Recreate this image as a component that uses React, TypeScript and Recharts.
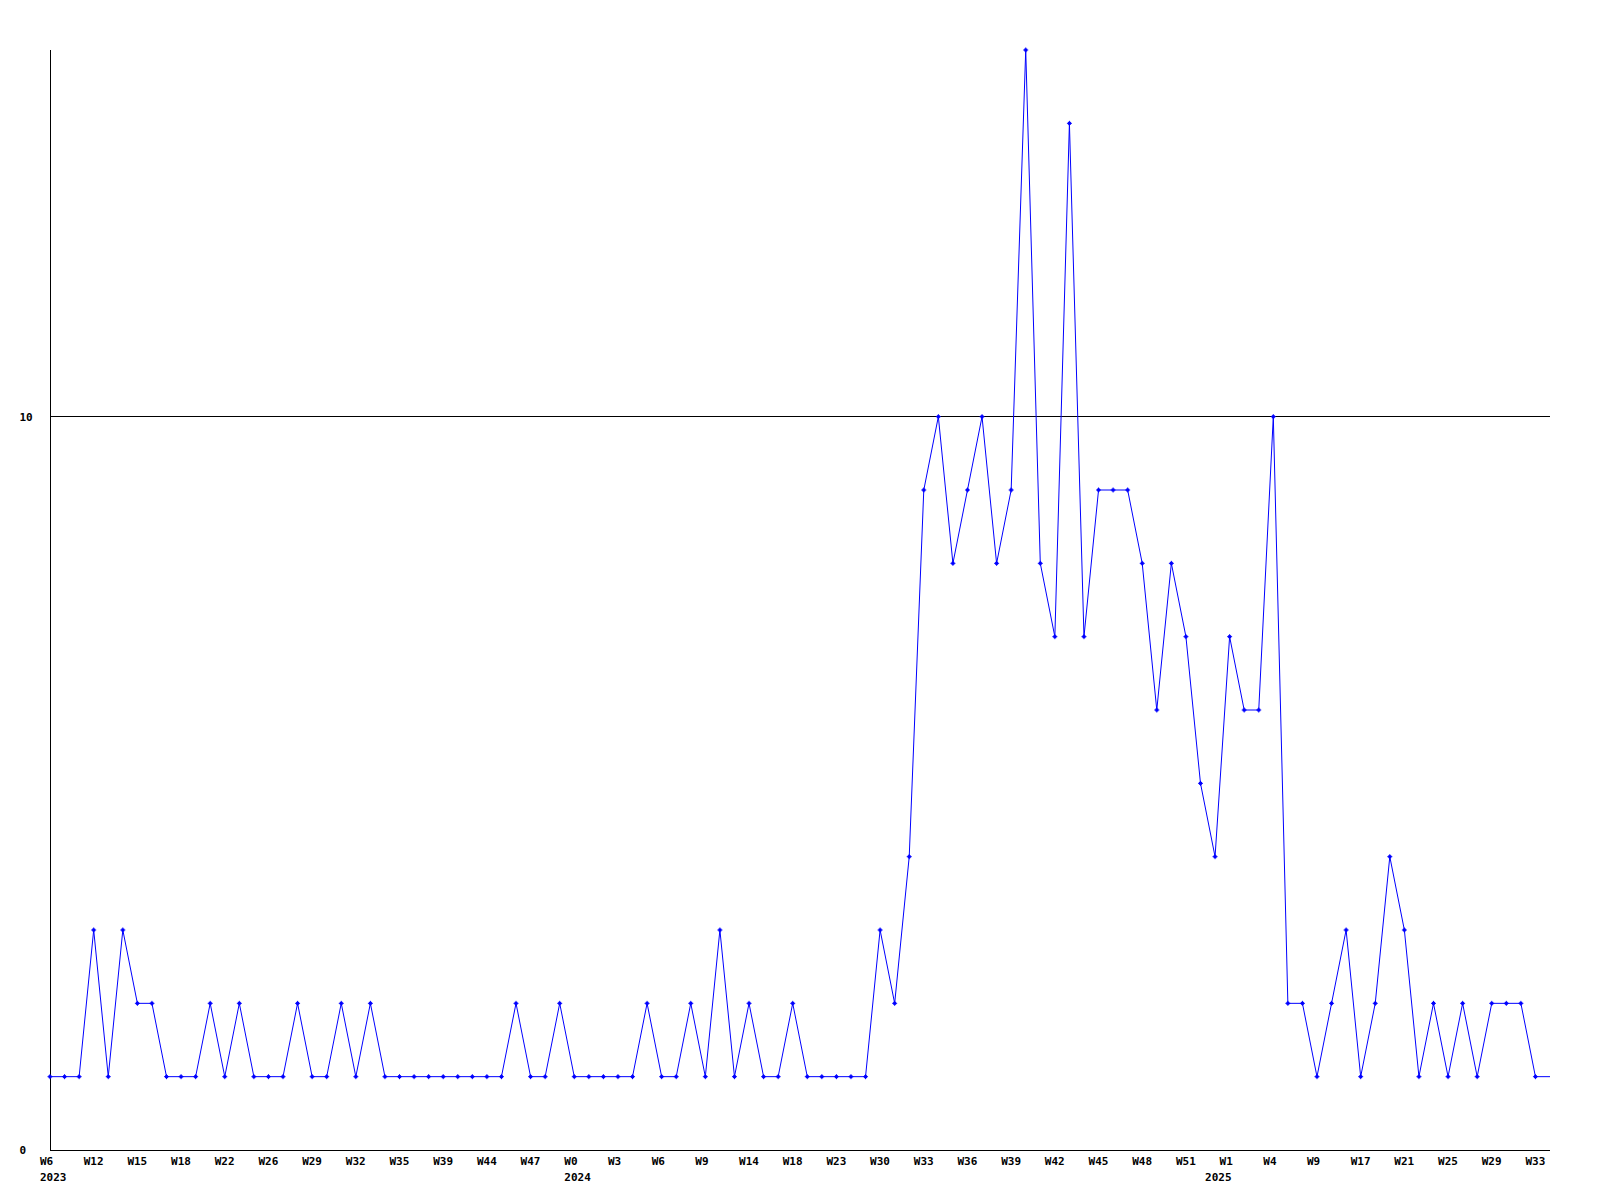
import { LineChart, Line, XAxis, YAxis, ReferenceLine } from "recharts";

// weekly counts, oldest first
const counts = [
  1, 1, 1, 3, 1, 3, 2, 2, 1, 1, 1, 2, 1, 2, 1, 1, 1, 2, 1, 1, 2, 1, 2, 1, 1, 1, 1, 1, 1, 1, 1, 1, 2, 1, 1, 2,
  1, 1, 1, 1, 1, 2, 1, 1, 2, 1, 3, 1, 2, 1, 1, 2, 1, 1, 1, 1, 1, 3, 2,
  4, 9, 10, 8, 9, 10, 8, 9, 15, 8, 7, 14, 7, 9, 9, 9, 8, 6, 8, 7, 5, 4, 7, 6, 6, 10,
  2, 2, 1, 2, 3, 1, 2, 4, 3, 1, 2, 1, 2, 1, 2, 2, 2, 1, 1,
];

// one label on every third point
const weekLabels = [
  "W6", "W12", "W15", "W18", "W22", "W26", "W29", "W32", "W35", "W39", "W44", "W47",
  "W0", "W3", "W6", "W9", "W14", "W18", "W23", "W30", "W33", "W36", "W39", "W42", "W45", "W48", "W51",
  "W1", "W4", "W9", "W17", "W21", "W25", "W29", "W33",
];
const labelStep = 3;

// point index where each year starts
const yearStarts = [
  { at: 0, label: "2023" },
  { at: 36, label: "2024" },
  { at: 80, label: "2025" },
];

const yTicks = [0, 10];
const gridValue = 10;

const data = counts.map((n, i) => ({ i, n }));

const weekAt = new Map(weekLabels.map((w, k) => [k * labelStep, w]));
const yearAt = new Map(yearStarts.map((y) => [y.at, y.label]));
const xTicks = Array.from(new Set([...weekAt.keys(), ...yearAt.keys()])).sort((a, b) => a - b);

const font = {
  fontFamily: '"DejaVu Sans Mono", monospace',
  fontWeight: "bold" as const,
  fontSize: 11,
  fill: "#000",
};

function WeekTick(props: any) {
  const { x, y, payload } = props;
  const week = weekAt.get(payload.value);
  const year = yearAt.get(payload.value);
  return (
    <g>
      {week && (
        <text x={x - 10} y={y + 15} textAnchor="start" {...font}>
          {week}
        </text>
      )}
      {year && (
        <text x={x - 10} y={y + 31} textAnchor="start" {...font}>
          {year}
        </text>
      )}
    </g>
  );
}

function ValueTick(props: any) {
  const { y, payload } = props;
  return (
    <text x={19.5} y={y + 4} textAnchor="start" {...font}>
      {payload.value}
    </text>
  );
}

function Marker(props: any) {
  const { cx, cy, index } = props;
  if (index === counts.length - 1) return <g key={`m${index}`} />;
  return (
    <g key={`m${index}`} fill="#0000ff">
      <rect x={cx - 1.5} y={cy - 1.5} width={3} height={3} />
      <rect x={cx - 2.5} y={cy - 0.5} width={5} height={1} />
      <rect x={cx - 0.5} y={cy - 2.5} width={1} height={5} />
    </g>
  );
}

export default function App() {
  return (
    <div style={{ position: "absolute", left: 0, top: 0, background: "#fff" }}>
      <LineChart
        width={1600}
        height={1200}
        data={data}
        margin={{ top: 50, right: 50, bottom: 0, left: 0 }}
      >
        <XAxis
          dataKey="i"
          type="number"
          domain={[0, counts.length - 1]}
          ticks={xTicks}
          interval={0}
          height={50}
          tickSize={0}
          tickMargin={0}
          tickLine={false}
          axisLine={{ stroke: "#000", shapeRendering: "crispEdges" }}
          tick={<WeekTick />}
        />
        <YAxis
          domain={[0, 15]}
          ticks={yTicks}
          width={50}
          tickSize={0}
          tickLine={false}
          axisLine={{ stroke: "#000", shapeRendering: "crispEdges" }}
          tick={<ValueTick />}
        />
        <ReferenceLine y={gridValue} stroke="#000" strokeWidth={1} shapeRendering="crispEdges" />
        <Line
          type="linear"
          dataKey="n"
          stroke="#0000ff"
          strokeWidth={1}
          dot={<Marker />}
          activeDot={false}
          isAnimationActive={false}
        />
      </LineChart>
    </div>
  );
}
